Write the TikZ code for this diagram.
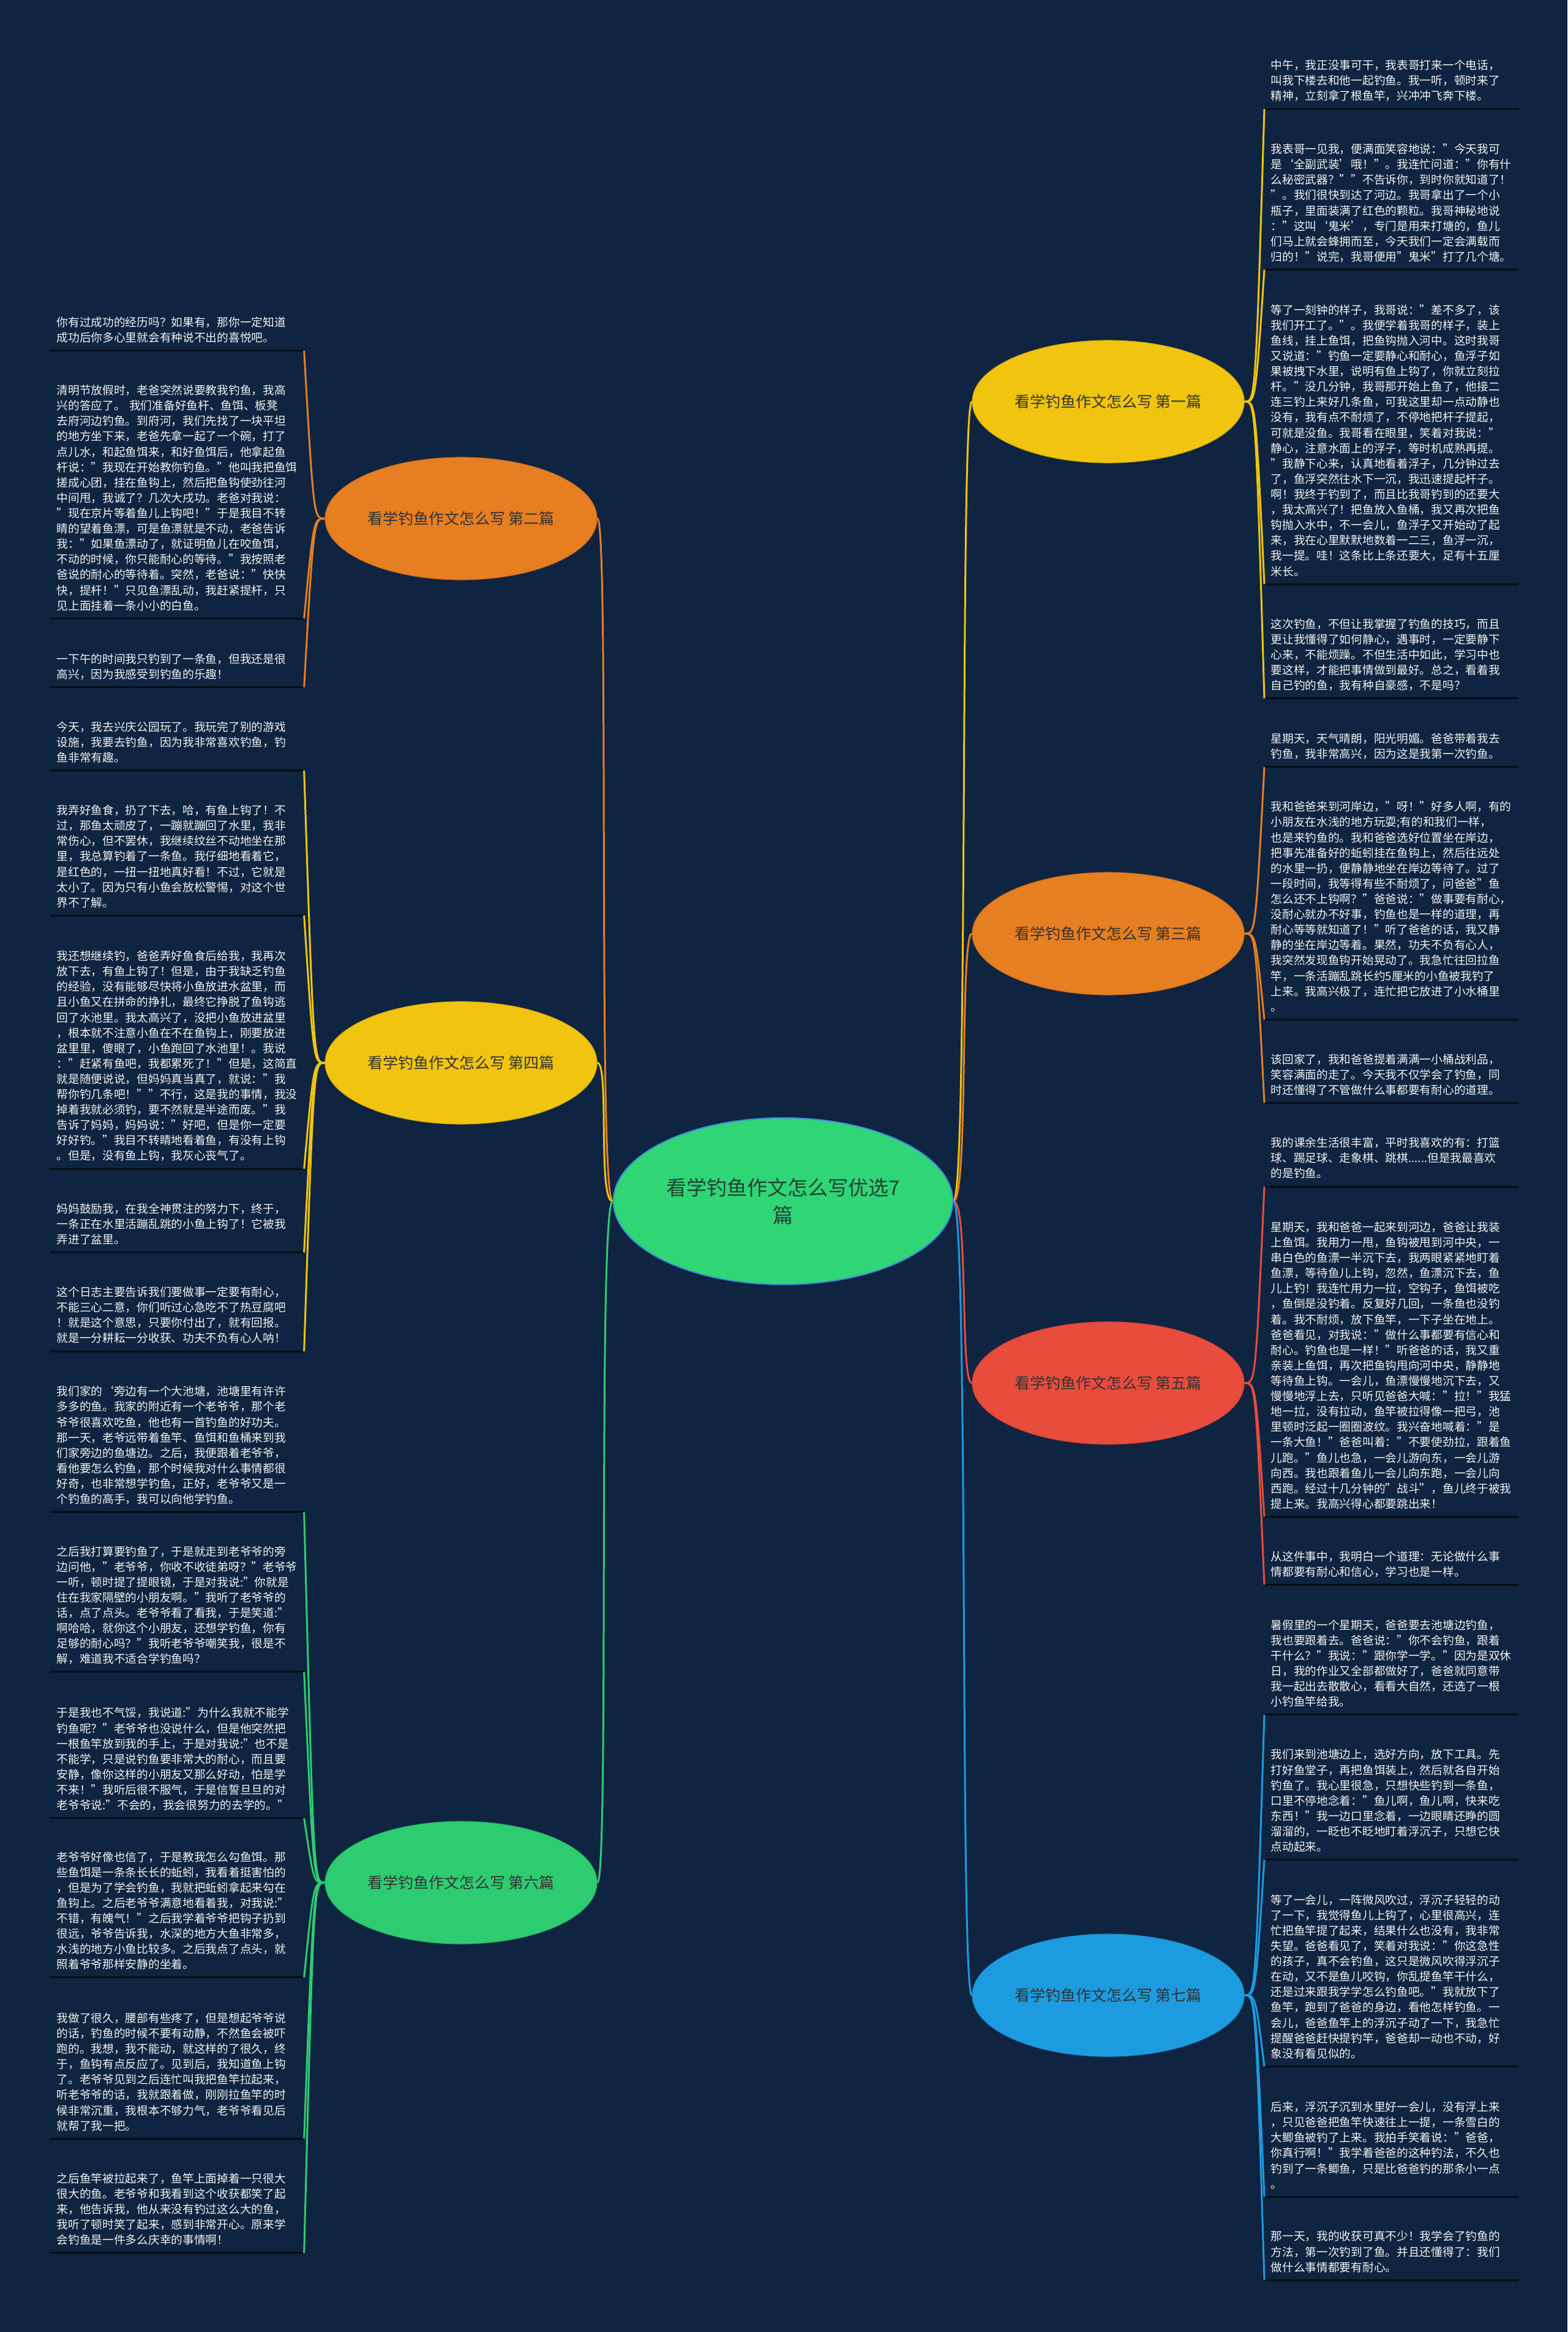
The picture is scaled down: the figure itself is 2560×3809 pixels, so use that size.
\documentclass[tikz,border=0pt]{standalone}
\usepackage{xcolor}
\usepackage{fontspec}
\setmainfont{Noto Sans CJK SC}
\usepackage{tikz}
\usetikzlibrary{shapes.geometric, positioning, calc}

\definecolor{bgcol}{HTML}{0E2440}
\definecolor{ulcol}{HTML}{050C14}
\definecolor{leaftext}{HTML}{F2F2F2}
\definecolor{topictext}{HTML}{333333}
\definecolor{roottext}{HTML}{234232}
\definecolor{rootline}{HTML}{3C8DD8}
\definecolor{rootfill}{HTML}{30D575}
\definecolor{yellowc}{HTML}{F1C40F}
\definecolor{orangec}{HTML}{E67E22}
\definecolor{greenc}{HTML}{2ECC71}
\definecolor{redc}{HTML}{E74C3C}
\definecolor{bluec}{HTML}{1D9BE0}

\newcommand{\leaffont}{\fontsize{5.32pt}{7.14pt}\selectfont}
\newcommand{\topicfont}{\fontsize{7.1pt}{8.5pt}\selectfont}
\newcommand{\rootfont}{\fontsize{9.4pt}{12.8pt}\selectfont}

\begin{document}
\begin{tikzpicture}[x=0.01cm, y=-0.01cm,
    rootnode/.style={ellipse, draw=rootline, line width=0.6pt, fill=rootfill, text=roottext, font=\rootfont, align=center, inner sep=0pt, minimum width=5.54cm, minimum height=2.72cm},
    topic/.style={ellipse, fill=#1, draw=#1!85!black, line width=0.3pt, text=topictext, font=\topicfont, inner sep=0pt, minimum width=4.44cm, minimum height=2cm},
    leaf/.style={text=leaftext, font=\leaffont, align=left, text width=3.93cm, inner xsep=0.1cm, inner ysep=0.058cm, execute at end node=\strut,
        append after command={(\tikzlastnode.south west) edge[draw=ulcol, line width=0.85pt] (\tikzlastnode.south east)}},
    link/.style={line width=0.85pt}]
        \path[use as bounding box, fill=bgcol] (0,0) rectangle (2560,3809);

        % Centre and topics
        \node (Root) [rootnode] at (1279,1962) {看学钓鱼作文怎么写优选7\\篇};
        \node (Pian1) [topic=yellowc] at (1810,656) {看学钓鱼作文怎么写 第一篇};
        \node (Pian2) [topic=orangec] at (753,847) {看学钓鱼作文怎么写 第二篇};
        \node (Pian3) [topic=orangec] at (1810,1525) {看学钓鱼作文怎么写 第三篇};
        \node (Pian4) [topic=yellowc] at (753,1736) {看学钓鱼作文怎么写 第四篇};
        \node (Pian5) [topic=redc] at (1810,2259) {看学钓鱼作文怎么写 第五篇};
        \node (Pian6) [topic=greenc] at (753,3075) {看学钓鱼作文怎么写 第六篇};
        \node (Pian7) [topic=bluec] at (1810,3259) {看学钓鱼作文怎么写 第七篇};

        % Left leaves (anchored on their underline)
        \node (P2a) [leaf, anchor=south west] at (82,572.7) {你有过成功的经历吗？如果有，那你一定知道\\成功后你多心里就会有种说不出的喜悦吧。};
        \node (P2b) [leaf, anchor=south west] at (82,1010.2) {清明节放假时，老爸突然说要教我钓鱼，我高\\兴的答应了。 我们准备好鱼杆、鱼饵、板凳\\去府河边钓鱼。到府河，我们先找了一块平坦\\的地方坐下来，老爸先拿一起了一个碗，打了\\点儿水，和起鱼饵来，和好鱼饵后，他拿起鱼\\杆说："我现在开始教你钓鱼。"他叫我把鱼饵\\搓成心团，挂在鱼钩上，然后把鱼钩使劲往河\\中间甩，我诚了？几次大戌功。老爸对我说：\\"现在京片等着鱼儿上钩吧！"于是我目不转\\睛的望着鱼漂，可是鱼漂就是不动，老爸告诉\\我："如果鱼漂动了，就证明鱼儿在咬鱼饵，\\不动的时候，你只能耐心的等待。"我按照老\\爸说的耐心的等待着。突然，老爸说："快快\\快，提杆！"只见鱼漂乱动，我赶紧提杆，只\\见上面挂着一条小小的白鱼。};
        \node (P2c) [leaf, anchor=south west] at (82,1122.5) {一下午的时间我只钓到了一条鱼，但我还是很\\高兴，因为我感受到钓鱼的乐趣！};

        \node (P4a) [leaf, anchor=south west] at (82,1258.6) {今天，我去兴庆公园玩了。我玩完了别的游戏\\设施，我要去钓鱼，因为我非常喜欢钓鱼，钓\\鱼非常有趣。};
        \node (P4b) [leaf, anchor=south west] at (82,1495.3) {我弄好鱼食，扔了下去，哈，有鱼上钩了！不\\过，那鱼太顽皮了，一蹦就蹦回了水里，我非\\常伤心，但不罢休，我继续纹丝不动地坐在那\\里，我总算钓着了一条鱼。我仔细地看着它，\\是红色的，一扭一扭地真好看！不过，它就是\\太小了。因为只有小鱼会放松警惕，对这个世\\界不了解。};
        \node (P4c) [leaf, anchor=south west] at (82,1909) {我还想继续钓，爸爸弄好鱼食后给我，我再次\\放下去，有鱼上钩了！但是，由于我缺乏钓鱼\\的经验，没有能够尽快将小鱼放进水盆里，而\\且小鱼又在拼命的挣扎，最终它挣脱了鱼钩逃\\回了水池里。我太高兴了，没把小鱼放进盆里\\，根本就不注意小鱼在不在鱼钩上，刚要放进\\盆里里，傻眼了，小鱼跑回了水池里！。我说\\："赶紧有鱼吧，我都累死了！"但是，这简直\\就是随便说说，但妈妈真当真了，就说："我\\帮你钓几条吧！""不行，这是我的事情，我没\\掉着我就必须钓，要不然就是半途而废。"我\\告诉了妈妈，妈妈说："好吧，但是你一定要\\好好钓。"我目不转睛地看着鱼，有没有上钩\\。但是，没有鱼上钩，我灰心丧气了。};
        \node (P4d) [leaf, anchor=south west] at (82,2045.7) {妈妈鼓励我，在我全神贯注的努力下，终于，\\一条正在水里活蹦乱跳的小鱼上钩了！它被我\\弄进了盆里。};
        \node (P4e) [leaf, anchor=south west] at (82,2207) {这个日志主要告诉我们要做事一定要有耐心，\\不能三心二意，你们听过心急吃不了热豆腐吧\\！就是这个意思，只要你付出了，就有回报。\\就是一分耕耘一分收获、功夫不负有心人呐！};

        \node (P6a) [leaf, anchor=south west] at (82,2469.6) {我们家的`旁边有一个大池塘，池塘里有许许\\多多的鱼。我家的附近有一个老爷爷，那个老\\爷爷很喜欢吃鱼，他也有一首钓鱼的好功夫。\\那一天，老爷远带着鱼竿、鱼饵和鱼桶来到我\\们家旁边的鱼塘边。之后，我便跟着老爷爷，\\看他要怎么钓鱼，那个时候我对什么事情都很\\好奇，也非常想学钓鱼，正好，老爷爷又是一\\个钓鱼的高手，我可以向他学钓鱼。};
        \node (P6b) [leaf, anchor=south west] at (82,2730.8) {之后我打算要钓鱼了，于是就走到老爷爷的旁\\边问他，"老爷爷，你收不收徒弟呀？"老爷爷\\一听，顿时提了提眼镜，于是对我说:"你就是\\住在我家隔壁的小朋友啊。"我听了老爷爷的\\话，点了点头。老爷爷看了看我，于是笑道:"\\啊哈哈，就你这个小朋友，还想学钓鱼，你有\\足够的耐心吗？"我听老爷爷嘲笑我，很是不\\解，难道我不适合学钓鱼吗？};
        \node (P6c) [leaf, anchor=south west] at (82,2969.6) {于是我也不气馁，我说道:"为什么我就不能学\\钓鱼呢？"老爷爷也没说什么，但是他突然把\\一根鱼竿放到我的手上，于是对我说:"也不是\\不能学，只是说钓鱼要非常大的耐心，而且要\\安静，像你这样的小朋友又那么好动，怕是学\\不来！"我听后很不服气，于是信誓旦旦的对\\老爷爷说:"不会的，我会很努力的去学的。"};
        \node (P6d) [leaf, anchor=south west] at (82,3229.8) {老爷爷好像也信了，于是教我怎么勾鱼饵。那\\些鱼饵是一条条长长的蚯蚓，我看着挺害怕的\\，但是为了学会钓鱼，我就把蚯蚓拿起来勾在\\鱼钩上。之后老爷爷满意地看着我，对我说:"\\不错，有魄气！"之后我学着爷爷把钩子扔到\\很远，爷爷告诉我，水深的地方大鱼非常多，\\水浅的地方小鱼比较多。之后我点了点头，就\\照着爷爷那样安静的坐着。};
        \node (P6e) [leaf, anchor=south west] at (82,3493.2) {我做了很久，腰部有些疼了，但是想起爷爷说\\的话，钓鱼的时候不要有动静，不然鱼会被吓\\跑的。我想，我不能动，就这样的了很久，终\\于，鱼钩有点反应了。见到后，我知道鱼上钩\\了。老爷爷见到之后连忙叫我把鱼竿拉起来，\\听老爷爷的话，我就跟着做，刚刚拉鱼竿的时\\候非常沉重，我根本不够力气，老爷爷看见后\\就帮了我一把。};
        \node (P6f) [leaf, anchor=south west] at (82,3679.8) {之后鱼竿被拉起来了，鱼竿上面掉着一只很大\\很大的鱼。老爷爷和我看到这个收获都笑了起\\来，他告诉我，他从来没有钓过这么大的鱼，\\我听了顿时笑了起来，感到非常开心。原来学\\会钓鱼是一件多么庆幸的事情啊！};

        % Right leaves
        \node (P1a) [leaf, anchor=south west] at (2065,178) {中午，我正没事可干，我表哥打来一个电话，\\叫我下楼去和他一起钓鱼。我一听，顿时来了\\精神，立刻拿了根鱼竿，兴冲冲飞奔下楼。};
        \node (P1b) [leaf, anchor=south west] at (2065,440.4) {我表哥一见我，便满面笑容地说："今天我可\\是‘全副武装’哦！"。我连忙问道："你有什\\么秘密武器？""不告诉你，到时你就知道了！\\"。我们很快到达了河边。我哥拿出了一个小\\瓶子，里面装满了红色的颗粒。我哥神秘地说\\："这叫‘鬼米’，专门是用来打塘的，鱼儿\\们马上就会蜂拥而至，今天我们一定会满载而\\归的！"说完，我哥便用"鬼米"打了几个塘。};
        \node (P1c) [leaf, anchor=south west] at (2065,954.1) {等了一刻钟的样子，我哥说："差不多了，该\\我们开工了。"。我便学着我哥的样子，装上\\鱼线，挂上鱼饵，把鱼钩抛入河中。这时我哥\\又说道："钓鱼一定要静心和耐心，鱼浮子如\\果被拽下水里，说明有鱼上钩了，你就立刻拉\\杆。"没几分钟，我哥那开始上鱼了，他接二\\连三钓上来好几条鱼，可我这里却一点动静也\\没有，我有点不耐烦了，不停地把杆子提起，\\可就是没鱼。我哥看在眼里，笑着对我说："\\静心，注意水面上的浮子，等时机成熟再提。\\"我静下心来，认真地看着浮子，几分钟过去\\了，鱼浮突然往水下一沉，我迅速提起杆子。\\啊！我终于钓到了，而且比我哥钓到的还要大\\，我太高兴了！把鱼放入鱼桶，我又再次把鱼\\钩抛入水中，不一会儿，鱼浮子又开始动了起\\来，我在心里默默地数着一二三，鱼浮一沉，\\我一提。哇！这条比上条还要大，足有十五厘\\米长。};
        \node (P1d) [leaf, anchor=south west] at (2065,1140.7) {这次钓鱼，不但让我掌握了钓鱼的技巧，而且\\更让我懂得了如何静心，遇事时，一定要静下\\心来，不能烦躁。不但生活中如此，学习中也\\要这样，才能把事情做到最好。总之，看着我\\自己钓的鱼，我有种自豪感，不是吗？};

        \node (P3a) [leaf, anchor=south west] at (2065,1252.9) {星期天，天气晴朗，阳光明媚。爸爸带着我去\\钓鱼，我非常高兴，因为这是我第一次钓鱼。};
        \node (P3b) [leaf, anchor=south west] at (2065,1665.3) {我和爸爸来到河岸边，"呀！"好多人啊，有的\\小朋友在水浅的地方玩耍;有的和我们一样，\\也是来钓鱼的。我和爸爸选好位置坐在岸边，\\把事先准备好的蚯蚓挂在鱼钩上，然后往远处\\的水里一扔，便静静地坐在岸边等待了。过了\\一段时间，我等得有些不耐烦了，问爸爸"鱼\\怎么还不上钩啊？"爸爸说："做事要有耐心，\\没耐心就办不好事，钓鱼也是一样的道理，再\\耐心等等就知道了！"听了爸爸的话，我又静\\静的坐在岸边等着。果然，功夫不负有心人，\\我突然发现鱼钩开始晃动了。我急忙往回拉鱼\\竿，一条活蹦乱跳长约5厘米的小鱼被我钓了\\上来。我高兴极了，连忙把它放进了小水桶里\\。};
        \node (P3c) [leaf, anchor=south west] at (2065,1801.3) {该回家了，我和爸爸提着满满一小桶战利品，\\笑容满面的走了。今天我不仅学会了钓鱼，同\\时还懂得了不管做什么事都要有耐心的道理。};

        \node (P5a) [leaf, anchor=south west] at (2065,1938) {我的课余生活很丰富，平时我喜欢的有：打篮\\球、踢足球、走象棋、跳棋......但是我最喜欢\\的是钓鱼。};
        \node (P5b) [leaf, anchor=south west] at (2065,2477.4) {星期天，我和爸爸一起来到河边，爸爸让我装\\上鱼饵。我用力一甩，鱼钩被甩到河中央，一\\串白色的鱼漂一半沉下去，我两眼紧紧地盯着\\鱼漂，等待鱼儿上钩，忽然，鱼漂沉下去，鱼\\儿上钓！我连忙用力一拉，空钩子，鱼饵被吃\\，鱼倒是没钓着。反复好几回，一条鱼也没钓\\着。我不耐烦，放下鱼竿，一下子坐在地上。\\爸爸看见，对我说："做什么事都要有信心和\\耐心。钓鱼也是一样！"听爸爸的话，我又重\\亲装上鱼饵，再次把鱼钩甩向河中央，静静地\\等待鱼上钩。一会儿，鱼漂慢慢地沉下去，又\\慢慢地浮上去，只听见爸爸大喊："拉！"我猛\\地一拉，没有拉动，鱼竿被拉得像一把弓，池\\里顿时泛起一圈圈波纹。我兴奋地喊着："是\\一条大鱼！"爸爸叫着："不要使劲拉，跟着鱼\\儿跑。"鱼儿也急，一会儿游向东，一会儿游\\向西。我也跟着鱼儿一会儿向东跑，一会儿向\\西跑。经过十几分钟的"战斗"，鱼儿终于被我\\提上来。我高兴得心都要跳出来！};
        \node (P5c) [leaf, anchor=south west] at (2065,2588.4) {从这件事中，我明白一个道理：无论做什么事\\情都要有耐心和信心，学习也是一样。};

        \node (P7a) [leaf, anchor=south west] at (2065,2800.8) {暑假里的一个星期天，爸爸要去池塘边钓鱼，\\我也要跟着去。爸爸说："你不会钓鱼，跟着\\干什么？"我说："跟你学一学。"因为是双休\\日，我的作业又全部都做好了，爸爸就同意带\\我一起出去散散心，看看大自然，还选了一根\\小钓鱼竿给我。};
        \node (P7b) [leaf, anchor=south west] at (2065,3037.6) {我们来到池塘边上，选好方向，放下工具。先\\打好鱼堂子，再把鱼饵装上，然后就各自开始\\钓鱼了。我心里很急，只想快些钓到一条鱼，\\口里不停地念着："鱼儿啊，鱼儿啊，快来吃\\东西！"我一边口里念着，一边眼睛还睁的圆\\溜溜的，一眨也不眨地盯着浮沉子，只想它快\\点动起来。};
        \node (P7c) [leaf, anchor=south west] at (2065,3375.3) {等了一会儿，一阵微风吹过，浮沉子轻轻的动\\了一下，我觉得鱼儿上钩了，心里很高兴，连\\忙把鱼竿提了起来，结果什么也没有，我非常\\失望。爸爸看见了，笑着对我说："你这急性\\的孩子，真不会钓鱼，这只是微风吹得浮沉子\\在动，又不是鱼儿咬钩，你乱提鱼竿干什么，\\还是过来跟我学学怎么钓鱼吧。"我就放下了\\鱼竿，跑到了爸爸的身边，看他怎样钓鱼。一\\会儿，爸爸鱼竿上的浮沉子动了一下，我急忙\\提醒爸爸赶快提钓竿，爸爸却一动也不动，好\\象没有看见似的。};
        \node (P7d) [leaf, anchor=south west] at (2065,3588.2) {后来，浮沉子沉到水里好一会儿，没有浮上来\\，只见爸爸把鱼竿快速往上一提，一条雪白的\\大鲫鱼被钓了上来。我拍手笑着说："爸爸，\\你真行啊！"我学着爸爸的这种钓法，不久也\\钓到了一条鲫鱼，只是比爸爸钓的那条小一点\\。};
        \node (P7e) [leaf, anchor=south west] at (2065,3724.2) {那一天，我的收获可真不少！我学会了钓鱼的\\方法，第一次钓到了鱼。并且还懂得了：我们\\做什么事情都要有耐心。};

        % Centre to topics
        \draw[link, yellowc] (Root.east) .. controls +(25,0) and +(-20,0) .. (Pian1.west);
        \draw[link, orangec] (Root.east) .. controls +(25,0) and +(-20,0) .. (Pian3.west);
        \draw[link, redc] (Root.east) .. controls +(25,0) and +(-20,0) .. (Pian5.west);
        \draw[link, bluec] (Root.east) .. controls +(25,0) and +(-20,0) .. (Pian7.west);
        \draw[link, orangec] (Root.west) .. controls +(-25,0) and +(20,0) .. (Pian2.east);
        \draw[link, yellowc] (Root.west) .. controls +(-25,0) and +(20,0) .. (Pian4.east);
        \draw[link, greenc] (Root.west) .. controls +(-25,0) and +(20,0) .. (Pian6.east);

        % Topics to leaves
        \draw[link, yellowc] (Pian1.east) .. controls +(18,0) .. (P1a.south west);
        \draw[link, yellowc] (Pian1.east) .. controls +(18,0) .. (P1b.south west);
        \draw[link, yellowc] (Pian1.east) .. controls +(18,0) .. (P1c.south west);
        \draw[link, yellowc] (Pian1.east) .. controls +(18,0) .. (P1d.south west);
        \draw[link, orangec] (Pian3.east) .. controls +(18,0) .. (P3a.south west);
        \draw[link, orangec] (Pian3.east) .. controls +(18,0) .. (P3b.south west);
        \draw[link, orangec] (Pian3.east) .. controls +(18,0) .. (P3c.south west);
        \draw[link, redc] (Pian5.east) .. controls +(18,0) .. (P5a.south west);
        \draw[link, redc] (Pian5.east) .. controls +(18,0) .. (P5b.south west);
        \draw[link, redc] (Pian5.east) .. controls +(18,0) .. (P5c.south west);
        \draw[link, bluec] (Pian7.east) .. controls +(18,0) .. (P7a.south west);
        \draw[link, bluec] (Pian7.east) .. controls +(18,0) .. (P7b.south west);
        \draw[link, bluec] (Pian7.east) .. controls +(18,0) .. (P7c.south west);
        \draw[link, bluec] (Pian7.east) .. controls +(18,0) .. (P7d.south west);
        \draw[link, bluec] (Pian7.east) .. controls +(18,0) .. (P7e.south west);
        \draw[link, orangec] (Pian2.west) .. controls +(-18,0) .. (P2a.south east);
        \draw[link, orangec] (Pian2.west) .. controls +(-18,0) .. (P2b.south east);
        \draw[link, orangec] (Pian2.west) .. controls +(-18,0) .. (P2c.south east);
        \draw[link, yellowc] (Pian4.west) .. controls +(-18,0) .. (P4a.south east);
        \draw[link, yellowc] (Pian4.west) .. controls +(-18,0) .. (P4b.south east);
        \draw[link, yellowc] (Pian4.west) .. controls +(-18,0) .. (P4c.south east);
        \draw[link, yellowc] (Pian4.west) .. controls +(-18,0) .. (P4d.south east);
        \draw[link, yellowc] (Pian4.west) .. controls +(-18,0) .. (P4e.south east);
        \draw[link, greenc] (Pian6.west) .. controls +(-18,0) .. (P6a.south east);
        \draw[link, greenc] (Pian6.west) .. controls +(-18,0) .. (P6b.south east);
        \draw[link, greenc] (Pian6.west) .. controls +(-18,0) .. (P6c.south east);
        \draw[link, greenc] (Pian6.west) .. controls +(-18,0) .. (P6d.south east);
        \draw[link, greenc] (Pian6.west) .. controls +(-18,0) .. (P6e.south east);
        \draw[link, greenc] (Pian6.west) .. controls +(-18,0) .. (P6f.south east);
\end{tikzpicture}
\end{document}
